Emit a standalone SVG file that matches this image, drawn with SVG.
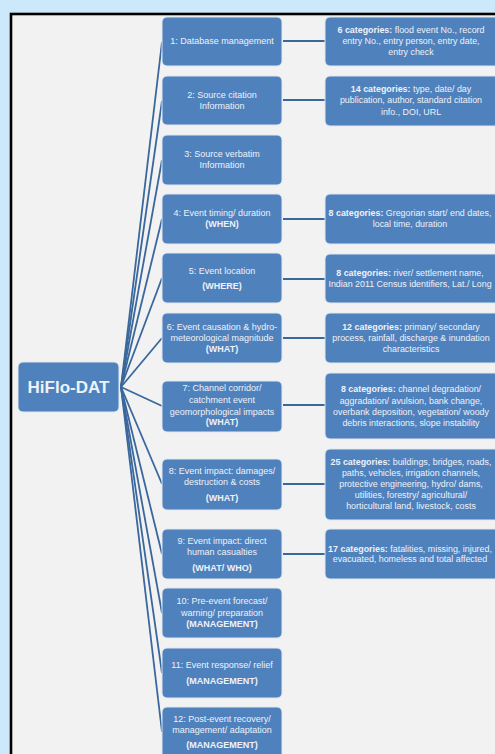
<svg xmlns="http://www.w3.org/2000/svg" width="495" height="754" viewBox="0 0 495 754">
<style>
.box{fill:#4f81bd;stroke:#dfe8f3;stroke-width:1}
.t{font-family:"Liberation Sans",Arial,sans-serif;font-size:9px;fill:#eef2f8;text-anchor:middle}
.r{font-family:"Liberation Sans",Arial,sans-serif;font-size:8.9px;fill:#eef2f8;text-anchor:middle}
.b{font-weight:bold}
.con{stroke:#3a679c;stroke-width:1.8;fill:none}
</style>
<rect x="0" y="0" width="495" height="754" fill="#cce9fc"/>
<rect x="11" y="14" width="500" height="760" fill="#f2f2f2" stroke="#000" stroke-width="2.6"/>
<g id="connectors" class="con">
<line x1="121" y1="387" x2="162" y2="42"/>
<line x1="121" y1="387" x2="162" y2="101"/>
<line x1="121" y1="387" x2="162" y2="160"/>
<line x1="121" y1="387" x2="162" y2="219"/>
<line x1="121" y1="387" x2="162" y2="278"/>
<line x1="121" y1="387" x2="162" y2="338"/>
<line x1="121" y1="387" x2="162" y2="406"/>
<line x1="121" y1="387" x2="162" y2="484"/>
<line x1="121" y1="387" x2="162" y2="554"/>
<line x1="121" y1="387" x2="162" y2="613"/>
<line x1="121" y1="387" x2="162" y2="673"/>
<line x1="121" y1="387" x2="162" y2="732"/>
<line x1="283" y1="41" x2="325" y2="41"/>
<line x1="283" y1="100" x2="325" y2="100"/>
<line x1="283" y1="219" x2="325" y2="219"/>
<line x1="283" y1="279" x2="325" y2="279"/>
<line x1="283" y1="338" x2="325" y2="338"/>
<line x1="283" y1="405" x2="325" y2="405"/>
<line x1="283" y1="484" x2="325" y2="484"/>
<line x1="283" y1="554" x2="325" y2="554"/>
</g>
<g id="root">
<rect class="box" x="18" y="362" width="101" height="50" rx="5"/>
<text x="68.5" y="393" font-family="'Liberation Sans',Arial,sans-serif" font-size="17" font-weight="bold" fill="#eef2f8" text-anchor="middle">HiFlo-DAT</text>
</g>
<g id="n1"><rect class="box" x="162" y="17" width="120" height="49" rx="5"/><text class="t" x="222" y="44">1: Database management</text></g>
<g id="n2"><rect class="box" x="162" y="76" width="120" height="49" rx="5"/><text class="t" x="222" y="98">2: Source citation</text><text class="t" x="222" y="109">Information</text></g>
<g id="n3"><rect class="box" x="162" y="135" width="120" height="50" rx="5"/><text class="t" x="222" y="157">3: Source verbatim</text><text class="t" x="222" y="168">Information</text></g>
<g id="n4"><rect class="box" x="162" y="194" width="120" height="50" rx="5"/><text class="t" x="222" y="216">4: Event timing/ duration</text><text class="t b" x="222" y="227">(WHEN)</text></g>
<g id="n5"><rect class="box" x="162" y="253" width="120" height="50" rx="5"/><text class="t" x="222" y="274">5: Event location</text><text class="t b" x="222" y="289">(WHERE)</text></g>
<g id="n6"><rect class="box" x="162" y="313" width="120" height="50" rx="5"/><text class="t" x="222" y="330">6: Event causation &amp; hydro-</text><text class="t" x="222" y="341">meteorological  magnitude</text><text class="t b" x="222" y="352">(WHAT)</text></g>
<g id="n7"><rect class="box" x="162" y="381" width="120" height="51" rx="5"/><text class="t" x="222" y="391">7: Channel corridor/</text><text class="t" x="222" y="403">catchment event</text><text class="t" x="222" y="415">geomorphological impacts</text><text class="t b" x="222" y="425">(WHAT)</text></g>
<g id="n8"><rect class="box" x="162" y="459" width="120" height="51" rx="5"/><text class="t" x="222" y="474">8: Event impact: damages/</text><text class="t" x="222" y="485">destruction &amp; costs</text><text class="t b" x="222" y="501">(WHAT)</text></g>
<g id="n9"><rect class="box" x="162" y="529" width="120" height="50" rx="5"/><text class="t" x="222" y="544">9: Event impact:  direct</text><text class="t" x="222" y="555">human casualties</text><text class="t b" x="222" y="571">(WHAT/ WHO)</text></g>
<g id="n10"><rect class="box" x="162" y="588" width="120" height="50" rx="5"/><text class="t" x="222" y="604">10: Pre-event forecast/</text><text class="t" x="222" y="616">warning/ preparation</text><text class="t b" x="222" y="627">(MANAGEMENT)</text></g>
<g id="n11"><rect class="box" x="162" y="648" width="120" height="50" rx="5"/><text class="t" x="222" y="668">11: Event response/ relief</text><text class="t b" x="222" y="684">(MANAGEMENT)</text></g>
<g id="n12"><rect class="box" x="162" y="707" width="120" height="52" rx="5"/><text class="t" x="222" y="722">12: Post-event recovery/</text><text class="t" x="222" y="733">management/ adaptation</text><text class="t b" x="222" y="748">(MANAGEMENT)</text></g>
<g id="d1"><rect class="box" x="325" y="17" width="176" height="49" rx="5"/><text class="r" x="411" y="33"><tspan class="b">6 categories:</tspan> flood event No., record</text><text class="r" x="411" y="44">entry No.,  entry person, entry date,</text><text class="r" x="411" y="55">entry check</text></g>
<g id="d2"><rect class="box" x="325" y="76" width="176" height="50" rx="5"/><text class="r" x="411" y="92"><tspan class="b">14 categories:</tspan> type, date/ day</text><text class="r" x="411" y="103">publication, author, standard citation</text><text class="r" x="411" y="115">info., DOI, URL</text></g>
<g id="d4"><rect class="box" x="325" y="194" width="176" height="50" rx="5"/><text class="r" x="410" y="216"><tspan class="b">8 categories:</tspan> Gregorian start/ end dates,</text><text class="r" x="410" y="227">local time, duration</text></g>
<g id="d5"><rect class="box" x="325" y="254" width="176" height="49" rx="5"/><text class="r" x="410" y="276"><tspan class="b">8 categories:</tspan> river/ settlement name,</text><text class="r" x="410" y="287">Indian 2011 Census identifiers, Lat./ Long</text></g>
<g id="d6"><rect class="box" x="325" y="313" width="176" height="50" rx="5"/><text class="r" x="411" y="330"><tspan class="b">12 categories:</tspan> primary/ secondary</text><text class="r" x="411" y="341">process, rainfall, discharge &amp; inundation</text><text class="r" x="411" y="352">characteristics</text></g>
<g id="d7"><rect class="box" x="325" y="373" width="176" height="66" rx="5"/><text class="r" x="411" y="392"><tspan class="b">8 categories:</tspan>  channel degradation/</text><text class="r" x="411" y="404">aggradation/ avulsion, bank change,</text><text class="r" x="411" y="415">overbank deposition, vegetation/ woody</text><text class="r" x="411" y="426">debris interactions, slope instability</text></g>
<g id="d8"><rect class="box" x="325" y="449" width="176" height="71" rx="5"/><text class="r" x="411" y="465"><tspan class="b">25 categories:</tspan>  buildings, bridges, roads,</text><text class="r" x="411" y="476">paths, vehicles, irrigation channels,</text><text class="r" x="411" y="487">protective engineering, hydro/ dams,</text><text class="r" x="411" y="498">utilities, forestry/ agricultural/</text><text class="r" x="411" y="509">horticultural land, livestock, costs</text></g>
<g id="d9"><rect class="box" x="325" y="529" width="176" height="50" rx="5"/><text class="r" x="410" y="552"><tspan class="b">17 categories:</tspan>  fatalities, missing, injured,</text><text class="r" x="410" y="562">evacuated, homeless and total affected</text></g>
</svg>
